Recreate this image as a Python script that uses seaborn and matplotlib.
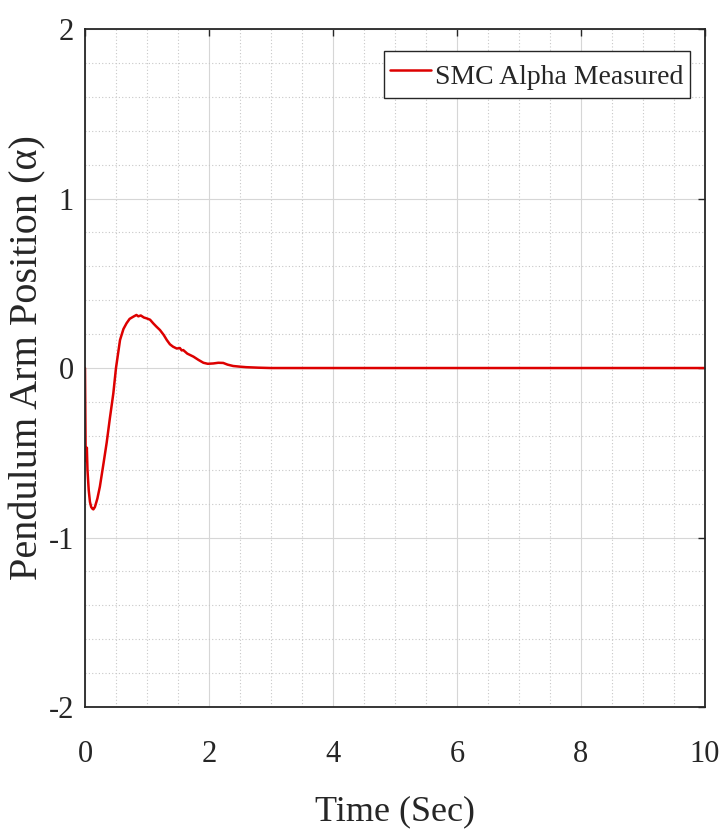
import matplotlib
matplotlib.use("Agg")
import matplotlib.pyplot as plt
from matplotlib.ticker import MultipleLocator
import seaborn as sns
import pandas as pd

# Measured pendulum arm angle under sliding mode control
time_sec = [0.0, 0.01, 0.02, 0.03, 0.04, 0.05, 0.06, 0.08, 0.10, 0.12, 0.135,
            0.16, 0.20, 0.24, 0.30, 0.35, 0.40, 0.457, 0.50, 0.565, 0.62,
            0.67, 0.72, 0.78, 0.83, 0.86, 0.90, 0.95, 0.995, 1.05, 1.10,
            1.15, 1.21, 1.27, 1.32, 1.37, 1.42, 1.48, 1.53, 1.56, 1.585,
            1.65, 1.75, 1.83, 1.91, 1.98, 2.07, 2.15, 2.23, 2.30, 2.39,
            2.50, 2.60, 2.80, 3.00, 3.50, 4.00, 5.00, 6.00, 7.00, 8.00,
            9.00, 10.00]
alpha_measured = [0.0, -0.48, -0.55, -0.47, -0.60, -0.66, -0.72, -0.79, -0.82,
                  -0.83, -0.834, -0.82, -0.77, -0.70, -0.56, -0.44, -0.30,
                  -0.15, 0.0, 0.165, 0.23, 0.264, 0.29, 0.303, 0.313, 0.305,
                  0.310, 0.298, 0.293, 0.285, 0.264, 0.245, 0.224, 0.195,
                  0.165, 0.140, 0.126, 0.115, 0.118, 0.104, 0.106, 0.085,
                  0.067, 0.048, 0.031, 0.025, 0.027, 0.031, 0.030, 0.020,
                  0.012, 0.008, 0.005, 0.002, 0.0, 0.0, 0.0, 0.0, 0.0, 0.0,
                  0.0, 0.0, 0.0]

x_ticks = [0, 2, 4, 6, 8, 10]
y_ticks = [-2, -1, 0, 1, 2]

df = pd.DataFrame({"Time": time_sec, "Alpha": alpha_measured})

sns.set_theme(style="white")
plt.rcParams["font.family"] = ["Liberation Serif", "DejaVu Serif"]
plt.rcParams["axes.unicode_minus"] = False

fig = plt.figure(figsize=(7.27, 8.39), dpi=100)
ax = fig.add_axes([0.1169, 0.1573, 0.8528, 0.8081])

sns.lineplot(data=df, x="Time", y="Alpha", ax=ax, color="#dd0000",
             linewidth=1.8, label="SMC Alpha Measured", sort=False)

ax.set_xlim(0, 10)
ax.set_ylim(-2, 2)
ax.set_xticks(x_ticks)
ax.set_yticks(y_ticks)
ax.set_xticklabels([str(v) for v in x_ticks])
ax.set_yticklabels([str(v) for v in y_ticks])
ax.xaxis.set_minor_locator(MultipleLocator(0.5))
ax.yaxis.set_minor_locator(MultipleLocator(0.2))

ax.grid(which="major", color="#d6d6d6", linestyle="-", linewidth=0.8)
ax.grid(which="minor", color="#c8c8c8", linestyle=(0, (1, 2)), linewidth=0.8)
ax.set_axisbelow(True)

for side in ax.spines.values():
    side.set_visible(True)
    side.set_color("#262626")
    side.set_linewidth(1.3)

ax.tick_params(which="major", direction="in", length=5, width=1.0,
               top=True, right=True, colors="#262626", labelsize=22,
               labelcolor="#262626")
ax.tick_params(axis="x", which="major", pad=24)
ax.tick_params(axis="y", which="major", pad=8)
ax.tick_params(which="minor", length=0)

ax.set_xlabel("Time (Sec)", fontsize=26, color="#262626")
ax.xaxis.set_label_coords(0.5, -0.13)
ax.set_ylabel("Pendulum Arm Position (α)", fontsize=29, color="#262626")
ax.yaxis.set_label_coords(-0.062, 0.516)

leg = ax.legend(loc="upper right", bbox_to_anchor=(0.9758, 0.9676),
                borderaxespad=0.0, fontsize=20, frameon=True, fancybox=False,
                edgecolor="#262626", framealpha=1.0, handlelength=1.5,
                handleheight=1.55, handletextpad=0.15, borderpad=0.22)
leg.get_frame().set_linewidth(1.0)

fig.savefig("out.png", dpi=100, facecolor="white")
